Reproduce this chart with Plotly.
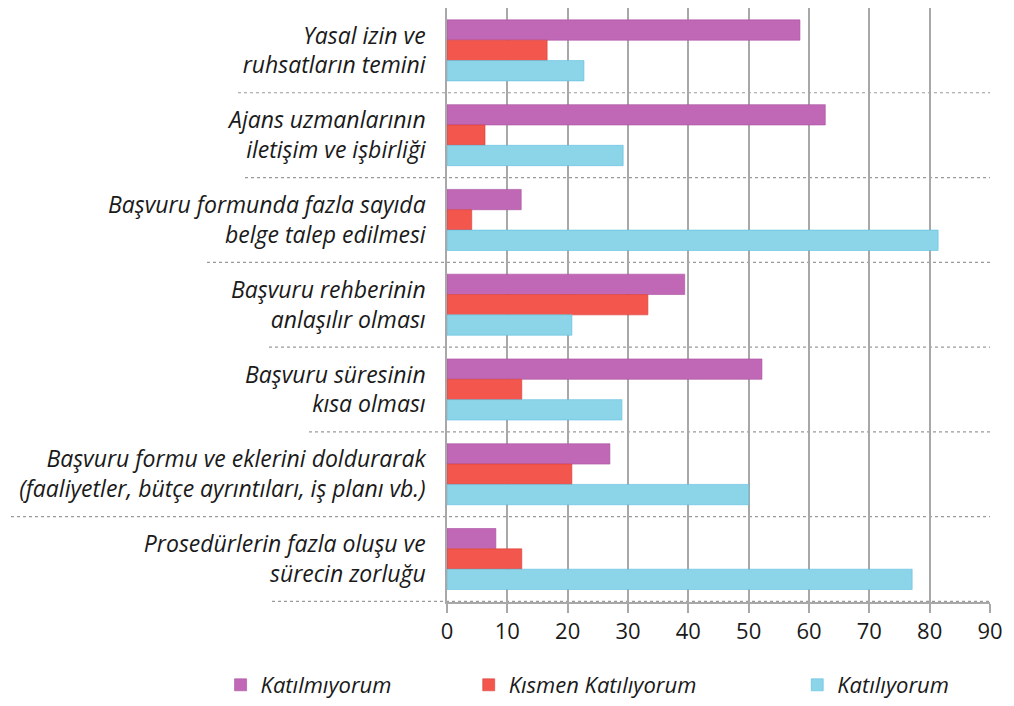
import plotly.graph_objects as go

# Survey answers per statement (percent)
categories = [
    "Yasal izin ve<br>ruhsatların temini",
    "Ajans uzmanlarının<br>iletişim ve işbirliği",
    "Başvuru formunda fazla sayıda<br>belge talep edilmesi",
    "Başvuru rehberinin<br>anlaşılır olması",
    "Başvuru süresinin<br>kısa olması",
    "Başvuru formu ve eklerini doldurarak<br>(faaliyetler, bütçe ayrıntıları, iş planı vb.)",
    "Prosedürlerin fazla oluşu ve<br>sürecin zorluğu",
]
katilmiyorum = [58.5, 62.7, 12.3, 39.4, 52.2, 27.0, 8.1]
kismen = [16.6, 6.3, 4.1, 33.3, 12.4, 20.7, 12.4]
katiliyorum = [22.7, 29.2, 81.4, 20.7, 29.0, 50.0, 77.1]

series_names = ["Katılmıyorum", "Kısmen Katılıyorum", "Katılıyorum"]
x_ticks = [0, 10, 20, 30, 40, 50, 60, 70, 80, 90]

colors = ["#c068b6", "#f2564c", "#8cd5e8"]
edge_colors = ["#a94fa0", "#d9413a", "#5cbde0"]

FONT = "Open Sans"

fig = go.Figure()
for i, (name, vals) in enumerate(zip(series_names, [katilmiyorum, kismen, katiliyorum])):
    fig.add_trace(go.Bar(
        y=categories, x=vals, name=name, orientation="h",
        marker=dict(color=colors[i], line=dict(color=edge_colors[i], width=0.6)),
        legend="legend" if i == 0 else f"legend{i + 1}",
    ))

# dotted separators between statements, starting under each label (screen px)
plot_left, plot_width = 447, 543
sep_start_px = [238, 245, 207, 269, 309, 11, 272]
for i, px0 in enumerate(sep_start_px):
    fig.add_shape(
        type="line", xref="paper", yref="y",
        x0=(px0 - plot_left) / plot_width, x1=1, y0=i + 0.5, y1=i + 0.5,
        line=dict(color="#9a9a9a", width=1.2, dash="dot"), layer="below",
    )

legend_style = dict(
    orientation="h", yanchor="middle", xanchor="left", y=-0.14,
    font=dict(family=FONT, size=22, color="#1a1a1a", style="italic"),
    bgcolor="rgba(0,0,0,0)",
)

# page body adds an 8px offset, so the figure is drawn 8px smaller
fig.update_layout(
    width=1006, height=698,
    margin=dict(l=439, r=24, t=0, b=102),
    paper_bgcolor="white", plot_bgcolor="white",
    barmode="group", bargap=0.28, bargroupgap=0,
    showlegend=True,
    legend=dict(x=-0.417, **legend_style),
    legend2=dict(x=0.04, **legend_style),
    legend3=dict(x=0.645, **legend_style),
    xaxis=dict(
        range=[0, 90], tickvals=x_ticks, showgrid=True,
        gridcolor="#a8a8a8", gridwidth=1.5,
        showline=True, linecolor="#a8a8a8", linewidth=1.5,
        ticks="outside", ticklen=9, tickcolor="#a8a8a8", tickwidth=1.5,
        tickfont=dict(family=FONT, size=22, color="#1a1a1a"),
        zeroline=False, fixedrange=True,
    ),
    yaxis=dict(
        autorange="reversed", showgrid=False,
        showline=True, linecolor="#a8a8a8", linewidth=1.5,
        ticks="", ticklabelstandoff=15,
        tickfont=dict(family=FONT, size=23, color="#1a1a1a", style="italic"),
        fixedrange=True,
    ),
)

fig.write_html("out.html")
